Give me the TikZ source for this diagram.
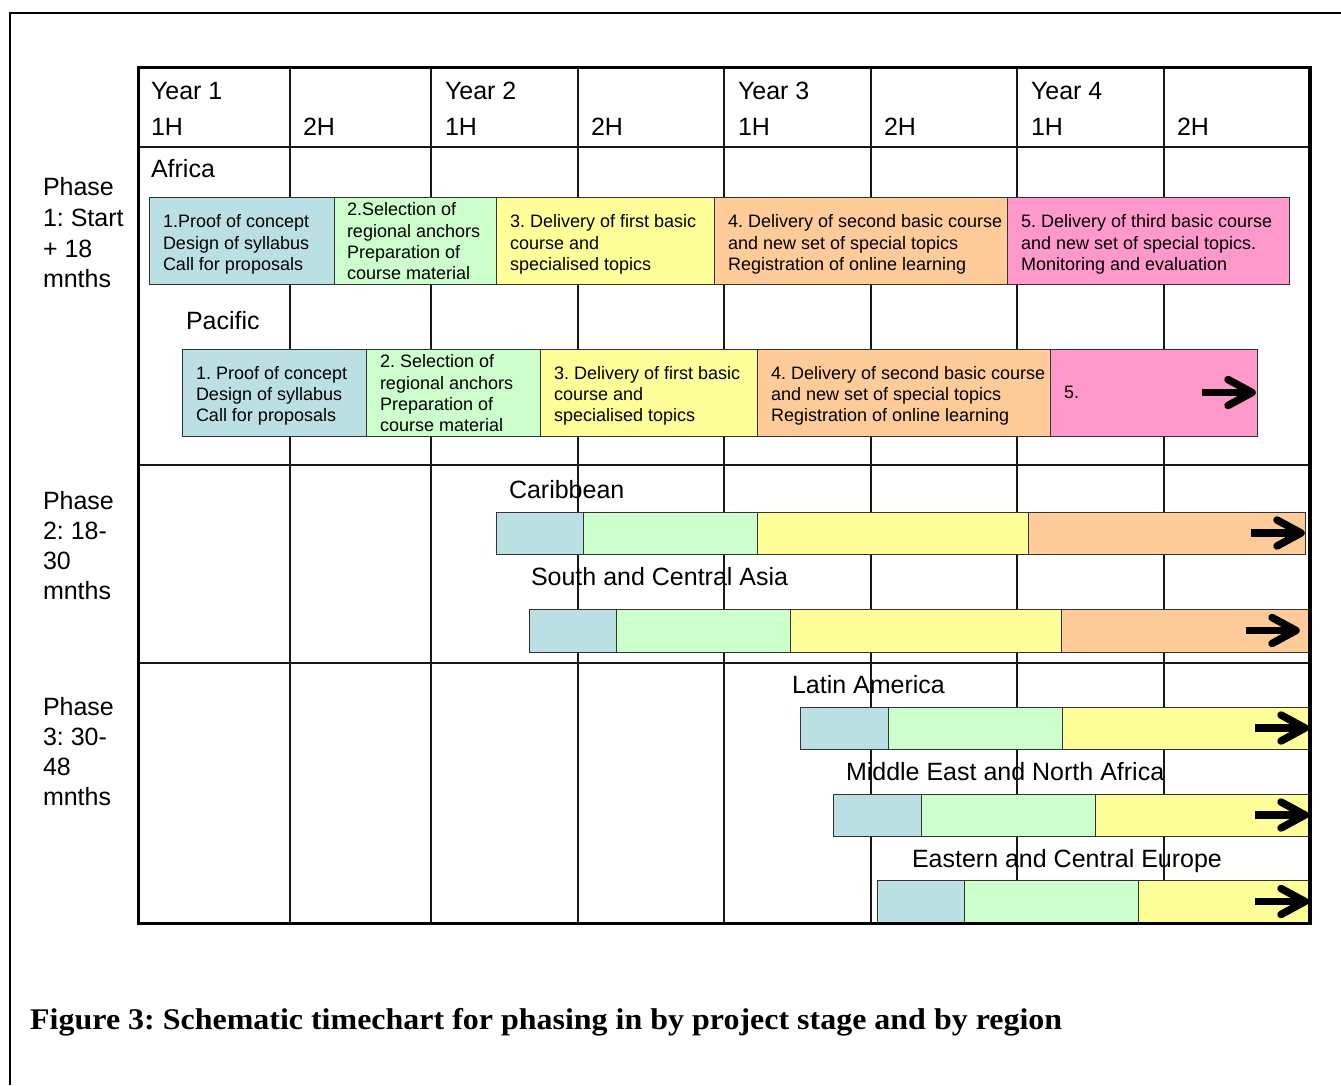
\documentclass[tikz,border=0pt]{standalone}
\usepackage{fontspec}
\setmainfont{Liberation Sans}
\newfontfamily\capfont{Liberation Serif}
\usepackage{graphicx}
\definecolor{cblue}{RGB}{187,224,227}
\definecolor{cgreen}{RGB}{204,255,204}
\definecolor{cyellow}{RGB}{255,255,153}
\definecolor{corange}{RGB}{255,204,153}
\definecolor{cpink}{RGB}{255,153,204}
\tikzset{
  segbox/.style={draw=black!80,line width=1pt,inner sep=0pt,outer sep=0pt},
  bartxt/.style={font=\fontsize{18}{21.3}\selectfont,align=left,inner sep=0pt,outer sep=0pt,anchor=west},
  hd/.style={font=\fontsize{25}{30}\selectfont,inner sep=0pt,outer sep=0pt,anchor=base west},
  gridline/.style={line width=1.5pt,black!90},
  arrowshaft/.style={line width=7.5pt,line cap=butt},
  arrowhead/.style={line width=7.5pt,line cap=round,line join=round}
}
\newcommand\seg[6]{%
  \pgfmathsetmacro\segw{#4-#3}\pgfmathsetmacro\segh{#6-#5}%
  \node[segbox,fill=#2,minimum width=\segw pt,minimum height=\segh pt,anchor=north west] (#1) at (#3,#5) {};}
\newcommand\bigarrow[2]{%
  \coordinate (#1) at (#2);
  \draw[arrowshaft] ([xshift=-50]#1) -- ([xshift=-3]#1);
  \draw[arrowhead] ([shift={(-24,-13)}]#1) -- (#1) -- ([shift={(-24,13)}]#1);}
\begin{document}
\frenchspacing
\begin{tikzpicture}[x=1pt,y=-1pt]
\useasboundingbox (0,0) rectangle (1341,1085);
% outer frame
\draw[line width=1.5pt] (10,1085) -- (10,13) -- (1341,13);
% grid
\foreach \x in {290,431,578,724,871,1017,1164} \draw[gridline] (\x,67.5) -- (\x,923.5);
\foreach \y in {147,465,663} \draw[gridline] (138.5,\y) -- (1310,\y);
% header
\node[hd] (y1) at (151,99) {Year 1};
\node[hd] (y2) at (445,99) {Year 2};
\node[hd] (y3) at (738,99) {Year 3};
\node[hd] (y4) at (1031,99) {Year 4};
\foreach \x/\t [count=\i] in {151/1H,303/2H,445/1H,591/2H,738/1H,884/2H,1031/1H,1177/2H}
  \node[hd] (h\i) at (\x,135) {\t};
% phase labels
\node[hd] (p1a) at (43,195) {Phase};
\node[hd] (p1b) at (43,226) {1: Start};
\node[hd] (p1c) at (43,257) {+ 18};
\node[hd] (p1d) at (43,287) {mnths};
\node[hd] (p2a) at (43,509) {Phase};
\node[hd] (p2b) at (43,539) {2: 18-};
\node[hd] (p2c) at (43,569) {30};
\node[hd] (p2d) at (43,599) {mnths};
\node[hd] (p3a) at (43,715) {Phase};
\node[hd] (p3b) at (43,745) {3: 30-};
\node[hd] (p3c) at (43,775) {48};
\node[hd] (p3d) at (43,805) {mnths};
% Africa
\node[hd] (lafr) at (151,177) {Africa};
\seg{a1}{cblue}{149}{334}{197}{284}
\seg{a2}{cgreen}{334}{496}{197}{284}
\seg{a3}{cyellow}{496}{714}{197}{284}
\seg{a4}{corange}{714}{1007}{197}{284}
\seg{a5}{cpink}{1007}{1289}{197}{284}
\node[bartxt] (a1t) at ([xshift=14,yshift=-4]a1.west) {1.Proof of concept\\Design of syllabus\\Call for proposals};
\node[bartxt] (a2t) at ([xshift=13,yshift=-1]a2.west) {2.Selection of\\regional anchors\\Preparation of\\course material};
\node[bartxt] (a3t) at ([xshift=14,yshift=-4]a3.west) {3. Delivery of first basic\\course and\\specialised topics};
\node[bartxt] (a4t) at ([xshift=14,yshift=-4]a4.west) {4. Delivery of second basic course\\and new set of special topics\\Registration of online learning};
\node[bartxt] (a5t) at ([xshift=14,yshift=-4]a5.west) {5. Delivery of third basic course\\and new set of special topics.\\Monitoring and evaluation};
% Pacific
\node[hd] (lpac) at (186,329) {Pacific};
\seg{b1}{cblue}{182}{366}{349}{436}
\seg{b2}{cgreen}{366}{540}{349}{436}
\seg{b3}{cyellow}{540}{757}{349}{436}
\seg{b4}{corange}{757}{1050}{349}{436}
\seg{b5}{cpink}{1050}{1257}{349}{436}
\node[bartxt] (b1t) at ([xshift=14,yshift=-3.5]b1.west) {1. Proof of concept\\Design of syllabus\\Call for proposals};
\node[bartxt] (b2t) at ([xshift=14,yshift=-1]b2.west) {2. Selection of\\regional anchors\\Preparation of\\course material};
\node[bartxt] (b3t) at ([xshift=14,yshift=-3.5]b3.west) {3. Delivery of first basic\\course and\\specialised topics};
\node[bartxt] (b4t) at ([xshift=14,yshift=-3.5]b4.west) {4. Delivery of second basic course\\and new set of special topics\\Registration of online learning};
\node[bartxt] (b5t) at ([xshift=14]b5.west) {5.};
\bigarrow{barr}{[xshift=-5]b5.east}
% Caribbean
\node[hd] (lcar) at (509,498) {Caribbean};
\seg{c1}{cblue}{496}{583}{512}{554}
\seg{c2}{cgreen}{583}{757}{512}{554}
\seg{c3}{cyellow}{757}{1028}{512}{554}
\seg{c4}{corange}{1028}{1305}{512}{554}
\bigarrow{carr}{[xshift=-4]c4.east}
% South and Central Asia
\node[hd] (lsca) at (531,585) {South and Central Asia};
\seg{d1}{cblue}{529}{616}{609}{652}
\seg{d2}{cgreen}{616}{790}{609}{652}
\seg{d3}{cyellow}{790}{1061}{609}{652}
\seg{d4}{corange}{1061}{1311}{609}{652}
\bigarrow{darr}{[xshift=-15]d4.east}
% Latin America
\node[hd] (llat) at (792,693) {Latin America};
\seg{e1}{cblue}{800}{888}{707}{749}
\seg{e2}{cgreen}{888}{1062}{707}{749}
\seg{e3}{cyellow}{1062}{1311}{707}{749}
\bigarrow{earr}{[xshift=-6]e3.east}
% MENA
\node[hd] (lmen) at (846,780) {Middle East and North Africa};
\seg{f1}{cblue}{833}{921}{794}{836}
\seg{f2}{cgreen}{921}{1095}{794}{836}
\seg{f3}{cyellow}{1095}{1311}{794}{836}
\bigarrow{farr}{[xshift=-6]f3.east}
% ECE
\node[hd] (lece) at (912,867) {Eastern and Central Europe};
\seg{g1}{cblue}{877}{964}{880}{923}
\seg{g2}{cgreen}{964}{1138}{880}{923}
\seg{g3}{cyellow}{1138}{1311}{880}{923}
\bigarrow{garr}{[xshift=-6]g3.east}
% table border
\draw[line width=3.5pt] (138.5,67.5) rectangle (1310,923.5);
% caption
\node[anchor=base west,inner sep=0pt] (cap) at (30,1029) {\resizebox{1032pt}{\height}{\capfont\bfseries\fontsize{30}{36}\selectfont Figure 3: Schematic timechart for phasing in by project stage and by region}};
\end{tikzpicture}
\end{document}
